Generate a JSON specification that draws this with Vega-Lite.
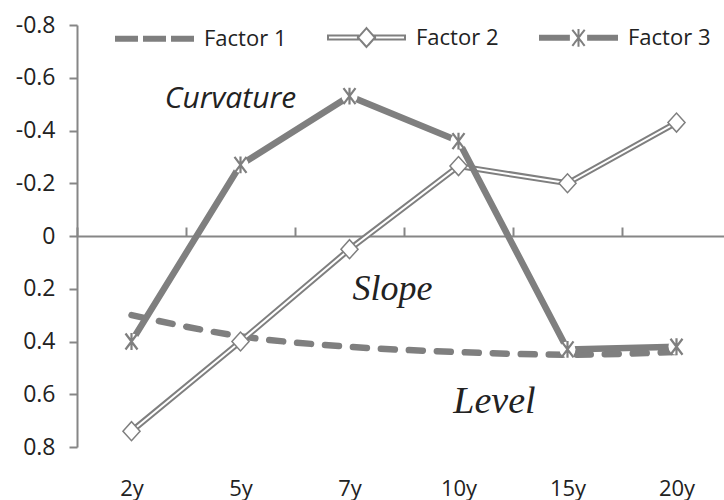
{
  "$schema": "https://vega.github.io/schema/vega-lite/v6.json",
  "width": 647,
  "height": 422,
  "autosize": "none",
  "padding": {"left": 77, "top": 25, "right": 0, "bottom": 53},
  "background": "white",
  "config": {"view": {"stroke": null}},
  "datasets": {
    "factors": [
      {"term": "2y", "factor": "Factor 1", "value": 0.30},
      {"term": "5y", "factor": "Factor 1", "value": 0.38},
      {"term": "7y", "factor": "Factor 1", "value": 0.42},
      {"term": "10y", "factor": "Factor 1", "value": 0.44},
      {"term": "15y", "factor": "Factor 1", "value": 0.45},
      {"term": "20y", "factor": "Factor 1", "value": 0.44},
      {"term": "2y", "factor": "Factor 2", "value": 0.74},
      {"term": "5y", "factor": "Factor 2", "value": 0.40},
      {"term": "7y", "factor": "Factor 2", "value": 0.05},
      {"term": "10y", "factor": "Factor 2", "value": -0.265},
      {"term": "15y", "factor": "Factor 2", "value": -0.20},
      {"term": "20y", "factor": "Factor 2", "value": -0.43},
      {"term": "2y", "factor": "Factor 3", "value": 0.40},
      {"term": "5y", "factor": "Factor 3", "value": -0.27},
      {"term": "7y", "factor": "Factor 3", "value": -0.53},
      {"term": "10y", "factor": "Factor 3", "value": -0.36},
      {"term": "15y", "factor": "Factor 3", "value": 0.43},
      {"term": "20y", "factor": "Factor 3", "value": 0.42}
    ]
  },
  "data": {"name": "factors"},
  "encoding": {
    "x": {
      "field": "term",
      "type": "ordinal",
      "sort": ["2y", "5y", "7y", "10y", "15y", "20y"],
      "scale": {"type": "band", "range": [0, 654], "paddingInner": 0, "paddingOuter": 0},
      "axis": {
        "orient": "bottom",
        "offset": -211,
        "title": null,
        "grid": false,
        "tickBand": "extent",
        "tickSize": -9,
        "tickWidth": 2,
        "tickColor": "#868686",
        "domainColor": "#868686",
        "domainWidth": 2,
        "labelAngle": 0,
        "labelBaseline": "top",
        "labelPadding": 251,
        "labelFont": "Open Sans",
        "labelFontSize": 22,
        "labelColor": "#222222"
      }
    },
    "y": {
      "field": "value",
      "type": "quantitative",
      "scale": {"domain": [-0.8, 0.8], "reverse": true, "nice": false, "zero": false},
      "axis": {
        "title": null,
        "grid": false,
        "values": [-0.8, -0.6, -0.4, -0.2, 0, 0.2, 0.4, 0.6, 0.8],
        "labelExpr": "datum.value == 0 ? '0' : (datum.value < 0 ? '-' : '') + format(abs(datum.value), '.1f')",
        "tickSize": 8,
        "tickWidth": 2,
        "tickColor": "#868686",
        "domainColor": "#868686",
        "domainWidth": 2,
        "labelPadding": 14,
        "labelFont": "Open Sans",
        "labelFontSize": 23,
        "labelColor": "#222222"
      }
    }
  },
  "layer": [
    {
      "transform": [{"filter": "datum.factor === 'Factor 1'"}],
      "mark": {"type": "line", "strokeWidth": 6.5, "strokeDash": [14, 14], "strokeCap": "round", "interpolate": "monotone"},
      "encoding": {
        "stroke": {
          "field": "factor",
          "type": "nominal",
          "scale": {"domain": ["Factor 1", "Factor 2", "Factor 3"], "range": ["#7f7f7f", "#7f7f7f", "#7f7f7f"]},
          "legend": {
            "orient": "none",
            "legendX": 38,
            "legendY": -27,
            "direction": "horizontal",
            "title": null,
            "symbolSize": 5929,
            "symbolStrokeWidth": 2,
            "labelOffset": 10,
            "columnPadding": 37,
            "labelFont": "Open Sans",
            "labelFontSize": 22,
            "labelColor": "#222222",
            "encode": {
              "symbols": {
                "update": {
                  "shape": {"signal": "datum.value === 'Factor 1' ? 'M-1,-0.052H-0.455V0.052H-1Z M-0.273,-0.052H0.273V0.052H-0.273Z M0.455,-0.052H1V0.052H0.455Z' : datum.value === 'Factor 2' ? 'M-1,-0.052H-0.22V0.052H-1Z M0.22,-0.052H1V0.052H0.22Z M-0.22,0L0,-0.245L0.22,0L0,0.245Z' : 'M-1,-0.052H-0.25V0.052H-1Z M0.25,-0.052H1V0.052H0.25Z M-0.16,-0.21L0.16,0.21M0.16,-0.21L-0.16,0.21M0,-0.23V0.23'"},
                  "fill": {"signal": "datum.value === 'Factor 2' ? '#ffffff' : '#7f7f7f'"},
                  "stroke": {"value": "#7f7f7f"},
                  "strokeWidth": {"value": 2},
                  "strokeDash": {"value": [1, 0]},
                  "opacity": {"value": 1},
                  "fillOpacity": {"value": 1},
                  "strokeOpacity": {"value": 1}
                }
              }
            }
          }
        }
      }
    },
    {
      "transform": [{"filter": "datum.factor === 'Factor 2'"}],
      "mark": {"type": "line", "strokeWidth": 6},
      "encoding": {"stroke": {"field": "factor", "type": "nominal"}}
    },
    {
      "transform": [{"filter": "datum.factor === 'Factor 2'"}],
      "mark": {"type": "line", "strokeWidth": 2, "color": "#ffffff"}
    },
    {
      "transform": [{"filter": "datum.factor === 'Factor 2'"}],
      "mark": {"type": "point", "shape": "M-0.9,0L0,-1L0.9,0L0,1Z", "size": 361, "filled": true, "fill": "#ffffff", "stroke": "#7f7f7f", "strokeWidth": 1.5, "opacity": 1}
    },
    {
      "transform": [{"filter": "datum.factor === 'Factor 3'"}],
      "mark": {"type": "line", "strokeWidth": 6.5},
      "encoding": {"stroke": {"field": "factor", "type": "nominal"}}
    },
    {
      "transform": [{"filter": "datum.factor === 'Factor 3'"}],
      "mark": {"type": "point", "shape": "circle", "size": 256, "filled": true, "color": "#ffffff", "opacity": 1}
    },
    {
      "transform": [{"filter": "datum.factor === 'Factor 3'"}],
      "mark": {"type": "point", "shape": "M-0.75,-1L0.75,1M0.75,-1L-0.75,1M0,-1.05V1.05", "size": 256, "filled": false, "stroke": "#7f7f7f", "strokeWidth": 2.2, "opacity": 1}
    },
    {
      "data": {"values": [{"term": "5y", "value": -0.52, "label": "Curvature"}]},
      "mark": {"type": "text", "dx": -10, "font": "Open Sans", "fontStyle": "italic", "fontSize": 30, "color": "#222222", "baseline": "middle", "align": "center"},
      "encoding": {"text": {"field": "label"}}
    },
    {
      "data": {"values": [{"term": "7y", "value": 0.2, "label": "Slope"}]},
      "mark": {"type": "text", "dx": 43, "font": "Liberation Serif", "fontStyle": "italic", "fontSize": 36, "color": "#222222", "baseline": "middle", "align": "center"},
      "encoding": {"text": {"field": "label"}}
    },
    {
      "data": {"values": [{"term": "10y", "value": 0.63, "label": "Level"}]},
      "mark": {"type": "text", "dx": 36, "font": "Liberation Serif", "fontStyle": "italic", "fontSize": 38, "color": "#222222", "baseline": "middle", "align": "center"},
      "encoding": {"text": {"field": "label"}}
    }
  ]
}
